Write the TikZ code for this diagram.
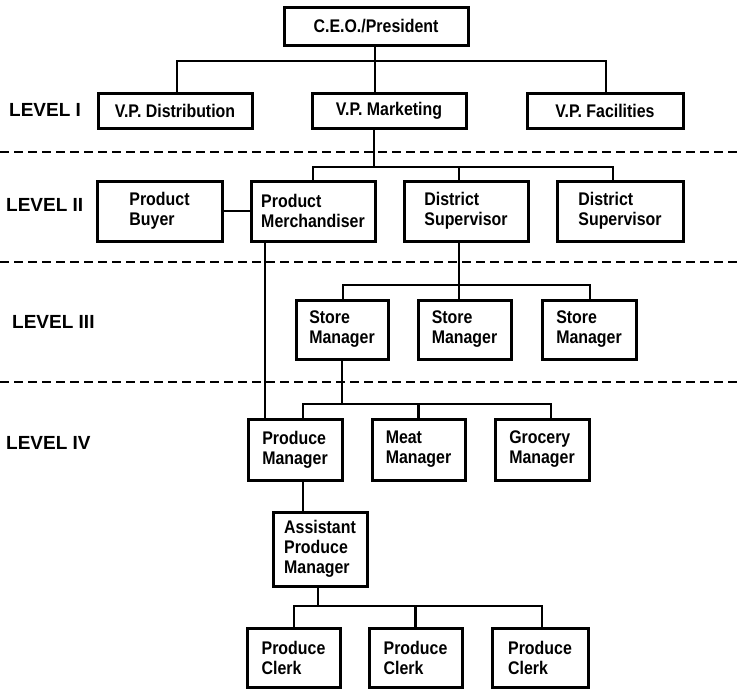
\documentclass[tikz,border=0pt]{standalone}
\usepackage{fontspec}
\setmainfont{Liberation Sans}
\newfontfamily\boxfont{Liberation Sans}[FakeStretch=0.87]
\begin{document}
\begin{tikzpicture}[x=1pt,y=-1pt,
  post/.style={draw=black, line width=3pt, fill=white, inner sep=0pt, align=left,
    font=\boxfont\bfseries\fontsize{18.3}{20}\selectfont},
  size/.style 2 args={minimum width=#1pt, minimum height=#2pt},
  link/.style={line width=2.7pt},
  divider/.style={line width=2.8pt, dash pattern=on 9pt off 5pt},
  level/.style={anchor=west, inner sep=0pt, font=\bfseries\fontsize{19}{22}\selectfont}]

\fill[white] (0,0) rectangle (741,691);
\useasboundingbox (0,0) rectangle (741,691);

% level dividers
\draw[divider] (0,152) -- (741,152);
\draw[divider] (0,262) -- (741,262);
\draw[divider] (0,382) -- (741,382);

% level labels
\node[level] (lv1) at (9,110) {LEVEL I};
\node[level] (lv2) at (6,205) {LEVEL II};
\node[level] (lv3) at (12,322) {LEVEL III};
\node[level] (lv4) at (6,443) {LEVEL IV};

% positions
\node[post,size={184}{38}] (ceo) at (376,26) {C.E.O./President};

\node[post,size={154}{35}] (vpd) at (175,110.5) {V.P. Distribution};
\node[post,size={154}{35}] (vpm) at (389,110.5) {V.P. Marketing};
\node[post,size={156}{35}] (vpf) at (605,110.5) {V.P. Facilities};

\node[post,size={125}{60}] (buyer) at (159.5,211) {Product\\Buyer};
\node[post,size={124}{60}] (merch) at (313,211) {Product\\Merchandiser};
\node[post,size={124}{60}] (dsa) at (466,211) {District\\Supervisor};
\node[post,size={126}{60}] (dsb) at (620,211) {District\\Supervisor};

\node[post,size={92}{59}] (sma) at (342,329.5) {Store\\Manager};
\node[post,size={93}{59}] (smb) at (464.5,329.5) {Store\\Manager};
\node[post,size={94}{59}] (smc) at (589,329.5) {Store\\Manager};

\node[post,size={94}{61}] (prm) at (295,449.5) {Produce\\Manager};
\node[post,size={93}{61}] (meat) at (418.5,449.5) {Meat\\Manager};
\node[post,size={94}{61}] (groc) at (542,449.5) {Grocery\\Manager};

\node[post,size={94}{74}] (asst) at (320,549) {Assistant\\Produce\\Manager};

\node[post,size={93}{59}] (clka) at (293.5,658) {Produce\\Clerk};
\node[post,size={93}{59}] (clkb) at (415.5,658) {Produce\\Clerk};
\node[post,size={96}{59}] (clkc) at (540,658) {Produce\\Clerk};

% bus junctions
\coordinate (b1) at (375,61);
\coordinate (b2) at (374,167);
\coordinate (b3) at (459,285);
\coordinate (b4) at (342,404);
\coordinate (b5) at (318,606);

% CEO to vice presidents
\draw[link] (ceo.south -| b1) -- (b1);
\draw[link] ([xshift=2pt]vpd.north) |- (b1) -| ([xshift=1pt]vpf.north);
\draw[link] (b1) -- (b1 |- vpm.north);

% marketing to level II
\draw[link] (vpm.south -| b2) -- (b2);
\draw[link] (merch.north) |- (b2) -| ([xshift=-7pt]dsb.north);
\draw[link] (b2 -| b3) -- (b3 |- dsa.north);
\draw[link] (buyer.east) -- (merch.west);

% merchandiser to produce manager
\draw[link] ([xshift=-48pt]merch.south) -- ([xshift=-30pt]prm.north);

% district supervisor to store managers
\draw[link] (dsa.south -| b3) -- (b3);
\draw[link] (sma.north -| 343,0) |- (b3) -| ([xshift=1pt]smc.north);
\draw[link] (b3) -- (b3 |- smb.north);

% store manager to department managers
\draw[link] (sma.south) -- (b4);
\draw[link] ([xshift=8pt]prm.north) |- (b4) -| ([xshift=9pt]groc.north);
\draw[link] (meat.north) -- (meat.north |- b4);

% produce manager to assistant
\draw[link] ([xshift=8pt]prm.south) -- ([xshift=8pt]prm.south |- asst.north);

% assistant to clerks
\draw[link] (asst.south -| b5) -- (b5);
\draw[link] ([xshift=0.5pt]clka.north) |- (b5) -| ([xshift=2pt]clkc.north);
\draw[link] (clkb.north) -- (clkb.north |- b5);

\end{tikzpicture}
\end{document}
